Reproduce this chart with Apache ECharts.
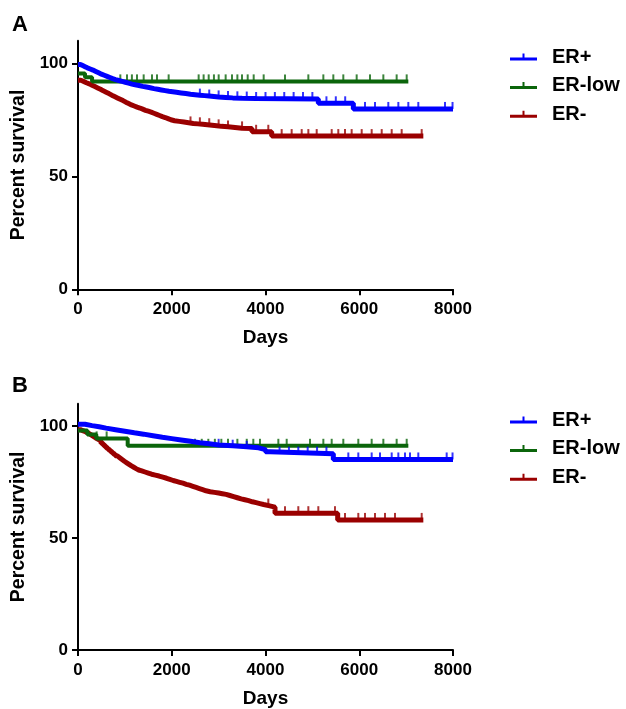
<!DOCTYPE html>
<html><head><meta charset="utf-8">
<script src="https://cdn.jsdelivr.net/npm/echarts@6/dist/echarts.min.js"></script>
<style>html,body{margin:0;padding:0;background:#fff}#c{width:626px;height:709px}</style>
</head><body><div id="c"></div>
<script>
// ---------- data ----------
const seriesNames = ['ER+', 'ER-low', 'ER-'];
const panelLabels = ['A', 'B'];
const xTicks = [0, 2000, 4000, 6000, 8000];
const yTicks = [0, 50, 100];

// Panel A survival steps [day, percent]
const aPos = [[0,99.5],[50,99],[100,98.5],[150,98],[200,97.5],[260,97],[320,96.4],[380,95.8],[440,95.2],[500,94.7],[560,94.2],[620,93.7],[680,93.2],[740,92.8],[800,92.4],[870,92],[940,91.6],[1010,91.2],[1080,90.8],[1150,90.5],[1220,90.2],[1300,89.8],[1380,89.5],[1460,89.2],[1540,88.8],[1620,88.5],[1700,88.2],[1780,87.9],[1860,87.6],[1940,87.4],[2020,87.2],[2100,86.9],[2200,86.6],[2300,86.3],[2400,86.1],[2500,85.9],[2600,85.7],[2700,85.5],[2800,85.3],[2900,85.1],[3000,84.9],[3150,84.7],[3300,84.5],[3500,84.4],[3800,84.2],[5127,82.3],[5874,79.8],[8000,79.8]];
const aLow = [[0,95.5],[150,93.8],[300,92],[7047,92]];
const aNeg = [[0,92.5],[60,92],[120,91.4],[180,90.9],[240,90.3],[300,89.7],[360,89.1],[420,88.5],[480,87.8],[540,87.2],[600,86.6],[660,85.9],[720,85.3],[780,84.7],[840,84.1],[900,83.5],[960,82.8],[1020,82.2],[1080,81.6],[1140,81.1],[1200,80.6],[1260,80.2],[1320,79.7],[1380,79.2],[1440,78.8],[1500,78.4],[1560,77.9],[1620,77.4],[1680,76.9],[1740,76.4],[1800,76],[1860,75.5],[1920,75],[1980,74.6],[2060,74.3],[2160,74],[2260,73.7],[2360,73.4],[2460,73.2],[2560,73],[2660,72.8],[2760,72.6],[2860,72.4],[2960,72.1],[3060,71.9],[3200,71.6],[3350,71.3],[3500,71.2],[3712,69.7],[4132,67.8],[7367,67.8]];
// Panel A censor times (days)
const aPosCens = [2600,2800,3000,3200,3400,3600,3800,4000,4200,4400,4600,4800,5000,5300,5500,5700,6123,6336,6620,6834,7047,7260,7829,7990];
const aLowCens = [903,1045,1150,1259,1401,1579,1685,1934,2574,2680,2788,2900,3001,3150,3285,3400,3499,3620,3748,3961,4416,4914,5234,5447,5660,5945,6229,6514,6798,7012];
const aNegCens = [2400,2600,2800,3000,3200,3500,3800,4060,4345,4558,4772,4914,5092,5412,5553,5696,5838,6052,6265,6479,6692,6905,7332];

// Panel B survival steps [day, percent]
const bPos = [[0,100.8],[150,100.2],[300,99.7],[450,99.1],[600,98.4],[800,97.7],[1000,97],[1200,96.4],[1400,95.7],[1600,95],[1800,94.4],[2000,93.8],[2200,93.2],[2400,92.6],[2600,92.1],[2800,91.6],[3000,91.2],[3300,90.8],[3600,90.3],[3854,89.5],[4000,88.5],[4100,87.7],[5447,85.1],[8000,85.1]];
const bLow = [[0,98],[200,96.2],[390,94.5],[1060,91.2],[7047,91.2]];
const bNeg = [[0,98.4],[50,98],[100,97.5],[160,96.8],[228,96.1],[280,95.4],[330,94.7],[380,94],[441,93.2],[490,92.3],[540,91.3],[590,90.3],[640,89.4],[690,88.5],[740,87.6],[790,86.7],[840,85.9],[890,85.1],[940,84.3],[990,83.6],[1040,82.9],[1090,82.2],[1140,81.6],[1190,81],[1240,80.4],[1294,80],[1360,79.5],[1430,79],[1500,78.5],[1570,78.1],[1650,77.7],[1730,77.2],[1810,76.7],[1890,76.2],[1960,75.7],[2030,75.3],[2100,74.9],[2170,74.5],[2240,74],[2310,73.6],[2380,73.1],[2450,72.6],[2520,72.1],[2590,71.6],[2660,71.1],[2730,70.7],[2820,70.4],[2910,70.1],[3000,69.8],[3080,69.5],[3160,69],[3240,68.5],[3320,68],[3400,67.5],[3480,67.1],[3560,66.7],[3640,66.2],[3720,65.8],[3800,65.4],[3880,65],[3960,64.5],[4067,63.8],[4203,61.1],[5540,58.1],[7367,58.1]];
// Panel B censor times (days)
const bPosCens = [3000,3300,3600,4300,4500,4700,4900,5100,5300,5767,5980,6265,6443,6692,6834,6976,7083,7260,7865,7990];
const bLowCens = [398,611,2496,2640,2780,2920,3058,3200,3400,3600,3740,3882,4274,4452,4949,5234,5412,5660,5980,6265,6514,6798,7012];
const bNegCens = [4060,4416,4700,4914,5127,5482,5696,5980,6123,6336,6549,6763,7332];

// ---------- styling ----------
const colors = {'ER+': '#0000ff', 'ER-low': '#0b650b', 'ER-': '#9a0000'};
const FONT = '"Liberation Sans", Arial, Helvetica, sans-serif';

function stepAt(steps, t) {
  let v = steps[0][1];
  for (const p of steps) { if (p[0] <= t) v = p[1]; }
  return v;
}

const panels = [
  {steps: {'ER+': aPos, 'ER-low': aLow, 'ER-': aNeg}, cens: {'ER+': aPosCens, 'ER-low': aLowCens, 'ER-': aNegCens}},
  {steps: {'ER+': bPos, 'ER-low': bLow, 'ER-': bNeg}, cens: {'ER+': bPosCens, 'ER-low': bLowCens, 'ER-': bNegCens}}
];

const gridTops = [40.7, 403.7];
const grids = gridTops.map(t => ({left: 78, top: t, width: 375, height: 248.6}));

const axisStyle = {lineStyle: {color: '#000', width: 2}};
const tickStyle = {length: 6, lineStyle: {color: '#000', width: 2}};
const labelStyle = {color: '#000', fontSize: 17, fontWeight: 'bold', fontFamily: FONT};

const xAxes = grids.map((g, i) => ({
  gridIndex: i, type: 'value', min: 0, max: 8000, interval: 2000,
  axisLine: axisStyle, axisTick: tickStyle,
  axisLabel: Object.assign({margin: 12, customValues: xTicks, formatter: v => String(v)}, labelStyle),
  splitLine: {show: false},
  name: 'Days', nameLocation: 'middle', nameGap: 39,
  nameTextStyle: {color: '#000', fontSize: 19, fontWeight: 'bold', fontFamily: FONT}
}));
const yAxes = grids.map((g, i) => ({
  gridIndex: i, type: 'value', min: 0, max: 110,
  axisLine: axisStyle,
  axisTick: Object.assign({customValues: yTicks}, tickStyle),
  axisLabel: Object.assign({margin: 10, customValues: yTicks, formatter: v => String(v)}, labelStyle),
  splitLine: {show: false},
  name: 'Percent survival', nameLocation: 'middle', nameGap: 46,
  nameTextStyle: {color: '#000', fontSize: 19.5, fontWeight: 'bold', fontFamily: FONT}
}));

const series = [];
const drawOrder = ['ER-', 'ER-low', 'ER+'];
panels.forEach((p, i) => {
  drawOrder.forEach((name, k) => {
    series.push({
      name: name, type: 'line', step: 'end', xAxisIndex: i, yAxisIndex: i,
      showSymbol: false, symbol: 'none', animation: false, z: 2 + k,
      lineStyle: {color: colors[name], width: name === 'ER-low' ? 4 : 5},
      itemStyle: {color: colors[name]},
      data: p.steps[name]
    });
    series.push({
      name: name + ' censored', type: 'scatter', xAxisIndex: i, yAxisIndex: i,
      symbol: 'rect', symbolSize: [2, 7], symbolOffset: [0, -3.5], animation: false, z: 2 + k,
      itemStyle: {color: colors[name]},
      data: p.cens[name].map(t => [t, stepAt(p.steps[name], t)])
    });
  });
});

const legendIcon = 'path://M0,4 L27,4 L27,7 L0,7 Z M12.5,0 L14.5,0 L14.5,4 L12.5,4 Z';
const legends = [42, 405].map(top => ({
  data: seriesNames, orient: 'vertical', left: 505, top: top,
  itemWidth: 27, itemHeight: 7, itemGap: 8.6, icon: legendIcon,
  selectedMode: false,
  textStyle: {color: '#000', fontSize: 20, lineHeight: 20, fontWeight: 'bold', fontFamily: FONT, padding: [0, 0, 0, 10]}
}));

const chart = echarts.init(document.getElementById('c'), null, {renderer: 'canvas'});
chart.setOption({
  backgroundColor: '#fff',
  animation: false,
  grid: grids, xAxis: xAxes, yAxis: yAxes, legend: legends, series: series,
  graphic: panelLabels.map((t, i) => ({
    type: 'text', left: 12, top: [14, 375][i],
    style: {text: t, fill: '#000', font: 'bold 22px ' + FONT}
  }))
});
</script></body></html>
